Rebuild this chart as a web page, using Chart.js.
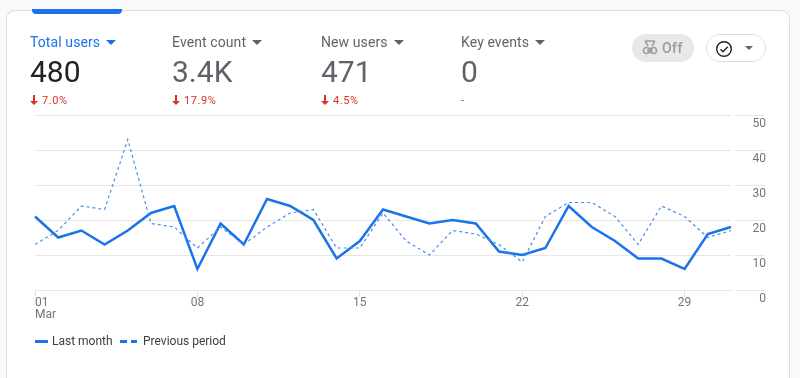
<!DOCTYPE html>
<html><head><meta charset="utf-8">
<script src="https://cdn.jsdelivr.net/npm/chart.js@4"></script>
<style>
html,body{margin:0;padding:0;width:800px;height:378px;overflow:hidden;background:#f8f9fa;font-family:Roboto,sans-serif}
#card{position:absolute;left:5.5px;top:9.5px;width:784px;height:400px;background:#fff;border:1px solid #dadce0;border-radius:9px;box-sizing:border-box}
#tab{position:absolute;left:32px;top:9px;width:90px;height:5px;background:#1a73e8;border-radius:0 0 4px 4px}
#chart{position:absolute;left:0;top:0}
.kpi{position:absolute;top:33px;white-space:nowrap}
.kpi .t{font-size:14px;line-height:18px;color:#5f6368;letter-spacing:.1px}
.kpi .t i{display:inline-block;width:0;height:0;border:5px solid transparent;border-top-color:#5f6368;border-bottom:0;margin-left:6px;vertical-align:2px}
.kpi.on .t{color:#1a73e8}.kpi.on .t i{border-top-color:#1a73e8}
.kpi .v{font-size:30px;line-height:34px;margin-top:4px;color:#5f6368}
.kpi.on .v{color:#202124}
.kpi .d{font-size:11px;line-height:14px;margin-top:5px;color:#d93025;letter-spacing:.6px}
.kpi .d svg{vertical-align:-1px;margin-right:4px}
.kpi .n{color:#5f6368}
#off{position:absolute;left:632px;top:34px;width:62px;height:28px;border-radius:14px;background:#e8e8e8;color:#9a9a9a;font-size:14px;font-weight:500;line-height:28px;box-sizing:border-box;padding-left:30px;letter-spacing:.4px}
#off svg{position:absolute;left:10px;top:6px}
#sel{position:absolute;left:706px;top:34px;width:60px;height:28px;border-radius:14px;border:1px solid #dadce0;box-sizing:border-box;background:#fff}
#sel svg{position:absolute;left:8px;top:5px}
#sel i{position:absolute;left:38px;top:11px;width:0;height:0;border:4px solid transparent;border-top-color:#5f6368;border-bottom:0}
#legend{position:absolute;left:35px;top:333px;height:16px;font-size:12px;line-height:16px;color:#3c4043;white-space:nowrap}
#legend span{position:absolute;top:0}
#legend b{position:absolute;top:7px;height:2.5px;background:#1a73e8}
</style></head><body>
<div id="card"></div><div id="tab"></div>
<canvas id="chart" width="800" height="378"></canvas>
<div class="kpi on" style="left:30px"><div class="t">Total users<i></i></div><div class="v">480</div><div class="d"><svg width="8" height="10" viewBox="0 0 8 10"><path d="M3 0h2v6h3L4 10 0 6h3z" fill="#d93025"/></svg>7.0%</div></div>
<div class="kpi" style="left:172px"><div class="t">Event count<i></i></div><div class="v">3.4K</div><div class="d"><svg width="8" height="10" viewBox="0 0 8 10"><path d="M3 0h2v6h3L4 10 0 6h3z" fill="#d93025"/></svg>17.9%</div></div>
<div class="kpi" style="left:321px"><div class="t">New users<i></i></div><div class="v">471</div><div class="d"><svg width="8" height="10" viewBox="0 0 8 10"><path d="M3 0h2v6h3L4 10 0 6h3z" fill="#d93025"/></svg>4.5%</div></div>
<div class="kpi" style="left:461px"><div class="t">Key events<i></i></div><div class="v">0</div><div class="d n">-</div></div>
<div id="off"><svg width="16" height="16" viewBox="0 0 16 16" fill="none" stroke="#a0a0a0" stroke-width="1.6"><path d="M3 1l3 5M13 1l-3 5M3 1h10"/><circle cx="8" cy="10.5" r="2"/><circle cx="4.5" cy="10.5" r="3"/><circle cx="11.5" cy="10.5" r="3"/></svg>Off</div>
<div id="sel"><svg width="18" height="18" viewBox="0 0 18 18" fill="none" stroke="#202124" stroke-width="1.4"><circle cx="9" cy="9" r="7.3"/><path d="M5.5 9.3l2.5 2.5 4.7-5"/></svg><i></i></div>
<div id="legend"></div>
<script>
const categories=["01","02","03","04","05","06","07","08","09","10","11","12","13","14","15","16","17","18","19","20","21","22","23","24","25","26","27","28","29","30","31"];
const shownDays=["01","08","15","22","29"];
const monthLabel="Mar";
const lastMonth=[21,15,17,13,17,22,24,6,19,13,26,24,20,9,14,23,21,19,20,19,11,10,12,24,18,14,9,9,6,16,18];
const previousPeriod=[13,17,24,23,43,19,18,12,18,13,18,22,23,12,12,22,14,10,17,16,13,8,21,25,25,21,13,24,21,15,17];
const yTicks=[0,10,20,30,40,50];
const seriesNames=["Last month","Previous period"];

const leg=document.getElementById('legend');
leg.innerHTML='<b style="left:0;width:13px"></b><span style="left:17px">'+seriesNames[0]+'</span>'+
 '<b style="left:85px;width:7px"></b><b style="left:96px;width:6px"></b><span style="left:108px">'+seriesNames[1]+'</span>';

const firstLabelLeft={id:'firstLabelLeft',beforeDraw(c){
  const items=c.scales.x.getLabelItems(c.chartArea);
  if(items[0]) items[0].options.textAlign='left';
}};
new Chart(document.getElementById('chart'),{
 type:'line',
 data:{labels:categories,datasets:[
  {label:seriesNames[1],data:previousPeriod,borderColor:'#4a8cf0',borderWidth:1.2,borderDash:[3,3],pointRadius:0,tension:0},
  {label:seriesNames[0],data:lastMonth,borderColor:'#1a73e8',borderWidth:2.5,pointRadius:0,tension:0,borderJoinStyle:'miter'}
 ]},
 plugins:[firstLabelLeft],
 options:{responsive:false,animation:false,
  layout:{padding:{left:35,right:34,top:115,bottom:57}},
  plugins:{legend:{display:false},tooltip:{enabled:false}},
  scales:{
   x:{type:'category',offset:false,
    afterBuildTicks(s){s.ticks=s.ticks.filter(t=>shownDays.includes(categories[t.value]));},
    afterFit(s){s.height=31;},
    border:{display:true,color:'#e6e6e6',width:1},
    grid:{drawOnChartArea:false,drawTicks:true,tickLength:7,color:'#e0e0e0'},
    ticks:{autoSkip:false,maxRotation:0,padding:0,color:'#70757a',font:{family:'Roboto',size:12,lineHeight:1},
     callback(v,i,t){const l=this.getLabelForValue(t[i].value);return l==='01'?[l,monthLabel]:l;}}
   },
   y:{position:'right',min:0,max:50,
    afterBuildTicks(s){s.ticks=yTicks.map(v=>({value:v}));},
    afterFit(s){s.width=35;},
    border:{display:false},
    grid:{color:'#e6e6e6',tickColor:'#e6e6e6',tickLength:34,tickBorderDash:[0,4,30,100]},
    ticks:{crossAlign:'far',labelOffset:9,padding:0,color:'#70757a',font:{family:'Roboto',size:12}}
   }
  }
 }
});
</script></body></html>
